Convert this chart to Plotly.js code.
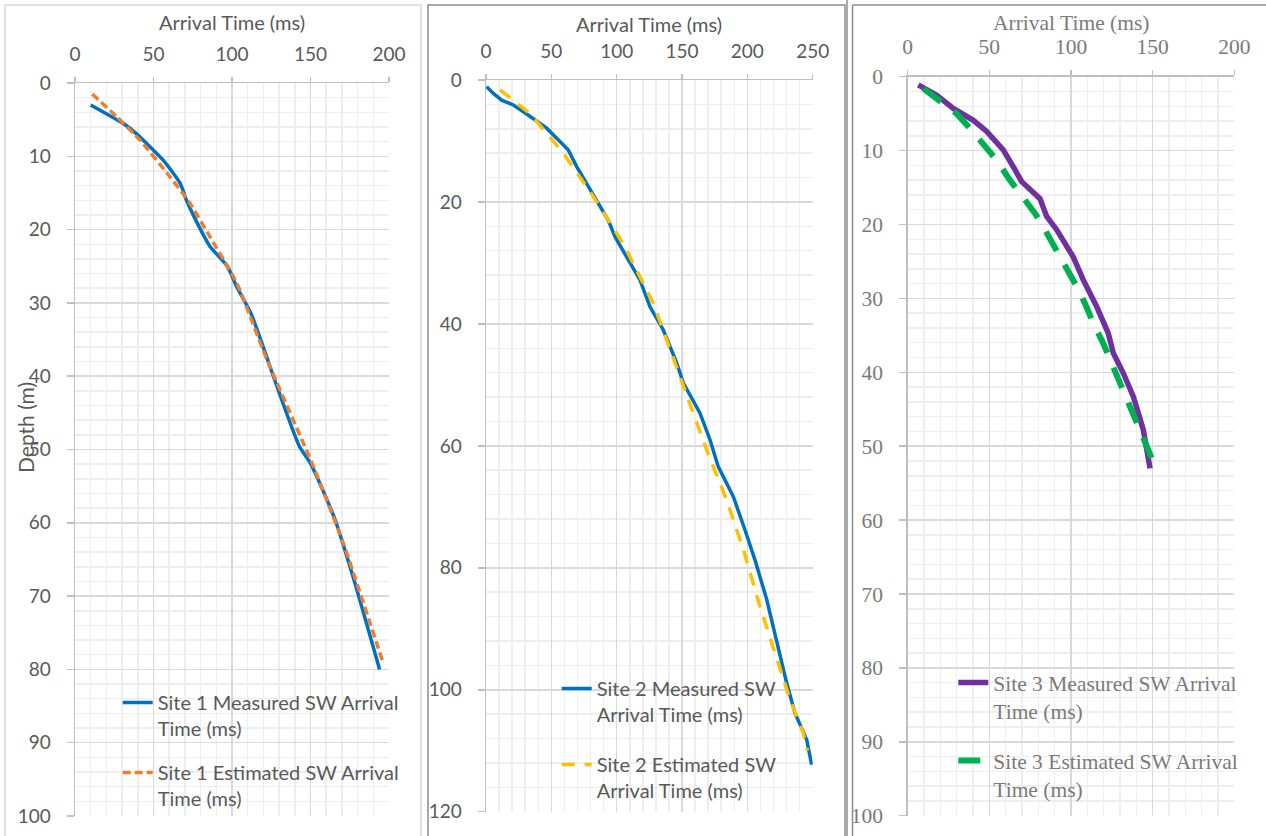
<!DOCTYPE html>
<html><head><meta charset="utf-8">
<script src="https://cdn.plot.ly/plotly-3.0.1.min.js"></script>
<style>html,body{margin:0;padding:0;background:#fff;}#chart{width:1266px;height:836px;}</style>
</head><body><div id="chart"></div>
<script>
// ---- Site 1 ----
const site1MeasuredTime  = [10, 32, 39, 56, 67, 71, 80, 86, 97, 103, 112, 122, 125, 143, 150, 165, 177, 194];
const site1MeasuredDepth = [3, 5.7, 6.9, 10.5, 13.7, 16, 20, 22.3, 25, 27.8, 31.4, 37.3, 39.2, 49.6, 51.9, 59.2, 67.3, 80];
const site1EstimatedTime  = [11, 26.5, 41.4, 60.5, 73.2, 86, 103, 122, 151.8, 170.9, 196.4];
const site1EstimatedDepth = [1.5, 4.6, 7.8, 12.8, 16.4, 21, 27.3, 37.6, 52.3, 62.8, 79.2];
// ---- Site 2 ----
const site2MeasuredTime  = [0.5, 5.6, 12, 20.9, 28.6, 37.5, 46.4, 56.6, 63, 69.4, 79.6, 88.5, 93.6, 98.7, 107.6, 117.8, 125.5, 135.7, 145.9, 151, 163.7, 171.4, 177.7, 189.2, 198.2, 205.8, 214.8, 230.1, 236.4, 245.4, 249.2];
const site2MeasuredDepth = [1.1, 2.2, 3.3, 4.1, 5.2, 6.6, 7.9, 10.1, 11.5, 14.2, 18, 21.3, 23, 25.7, 29, 32.8, 37.2, 41, 46.4, 49.7, 54.6, 59, 63.4, 68.3, 73.8, 78.7, 85.2, 98.9, 103.8, 108.2, 112.3];
const site2EstimatedTime  = [10.7, 33.7, 59.2, 82.1, 105, 128, 148.4, 156, 168.9, 184.2, 196.9, 209.6, 224.9, 232.6, 242.8, 246];
const site2EstimatedDepth = [1.6, 5.5, 12, 19.1, 26.8, 36.6, 48.6, 53, 60.7, 68.9, 77, 86.3, 96.2, 101.6, 107.1, 110];
// ---- Site 3 ----
const site3MeasuredTime  = [6.5, 17.8, 27.9, 40.2, 48.4, 58.5, 64.7, 69.8, 81, 85.1, 91.2, 95.3, 101.4, 107.5, 115.7, 122.8, 125.9, 132, 138.2, 144.3, 147.3, 148.4];
const site3MeasuredDepth = [1.1, 2.5, 4.3, 5.9, 7.4, 9.9, 12.2, 14.2, 16.5, 18.9, 20.7, 22.1, 24.4, 27.5, 31.1, 34.7, 37.4, 40.1, 43.3, 47.8, 51, 53];
const site3EstimatedTime  = [9.6, 19.8, 30, 38.2, 47.3, 54.5, 62.6, 69.8, 78, 84, 91.2, 97.4, 103.5, 108.6, 113.7, 119.8, 124.9, 129, 135.1, 140.2, 145.3, 149.4];
const site3EstimatedDepth = [1.6, 3.2, 5, 7, 9.5, 11.3, 14, 16, 18.5, 20.7, 23.5, 25.7, 28.4, 30.7, 33.4, 36.1, 38.8, 41, 44, 46.5, 49.2, 51.6];

const xTicks12 = [0, 50, 100, 150, 200];
const xTicks2  = [0, 50, 100, 150, 200, 250];

const names = [
  'Site 1 Measured SW Arrival<br>Time (ms)', 'Site 1 Estimated SW Arrival<br>Time (ms)',
  'Site 2 Measured SW<br>Arrival Time (ms)', 'Site 2 Estimated SW<br>Arrival Time (ms)',
  'Site 3 Measured SW Arrival<br>Time (ms)', 'Site 3 Estimated SW Arrival<br>Time (ms)'
];

const W = 1266, H = 836;
const px = x => x / W;
const py = y => 1 - y / H;

const sansFam = 'Lato, "Open Sans", sans-serif';
const serifFam = '"Liberation Serif", "Times New Roman", serif';
const sansTick = {family: sansFam, size: 19, color: '#595959'};
const sansText = {family: sansFam, size: 20, color: '#595959'};
const serifTick = {family: serifFam, size: 21.5, color: '#7a7a7a'};
const serifText = {family: serifFam, size: 21.5, color: '#7a7a7a'};

function xAx(dom, rng, ticks, font) {
  return {domain: dom, range: rng, side: 'top', tickmode: 'array', tickvals: ticks,
    showline: true, linecolor: '#bfbfbf', linewidth: 1.5, ticks: 'outside', ticklen: 5,
    tickcolor: '#bfbfbf', tickwidth: 1.5, showgrid: true, gridcolor: '#d9d9d9', gridwidth: 1.5,
    minor: {dtick: 10, showgrid: true, gridcolor: '#eeeeee', gridwidth: 1.5},
    zeroline: false, tickfont: font, ticklabelstandoff: 8, fixedrange: true};
}
function yAx(dom, rng, dt, mdt, font) {
  return {domain: dom, range: rng, dtick: dt, tick0: 0,
    showline: true, linecolor: '#bfbfbf', linewidth: 1.5, ticks: 'outside', ticklen: 7,
    tickcolor: '#bfbfbf', tickwidth: 1.5, showgrid: true, gridcolor: '#d9d9d9', gridwidth: 1.5,
    minor: {dtick: mdt, showgrid: true, gridcolor: '#eeeeee', gridwidth: 1.5},
    zeroline: false, tickfont: font, ticklabelstandoff: 12, fixedrange: true};
}

const traces = [
  {x: site1MeasuredTime, y: site1MeasuredDepth, xaxis: 'x', yaxis: 'y', mode: 'lines', name: names[0], legend: 'legend', legendgroup: 'g1',
   line: {color: '#0070C0', width: 3.5, shape: 'spline', smoothing: 0.6}},
  {x: site1EstimatedTime, y: site1EstimatedDepth, xaxis: 'x', yaxis: 'y', mode: 'lines', name: names[1], legend: 'legend', legendgroup: 'g2',
   line: {color: '#ED7D31', width: 3.5, dash: '8px,4px', shape: 'spline', smoothing: 0.6}},
  {x: site2MeasuredTime, y: site2MeasuredDepth, xaxis: 'x2', yaxis: 'y2', mode: 'lines', name: names[2], legend: 'legend2', legendgroup: 'g3',
   line: {color: '#0070C0', width: 3.5}},
  {x: site2EstimatedTime, y: site2EstimatedDepth, xaxis: 'x2', yaxis: 'y2', mode: 'lines', name: names[3], legend: 'legend2', legendgroup: 'g4',
   line: {color: '#FFC000', width: 3.5, dash: '13px,10px'}},
  {x: site3MeasuredTime, y: site3MeasuredDepth, xaxis: 'x3', yaxis: 'y3', mode: 'lines', name: names[4], legend: 'legend3', legendgroup: 'g5',
   line: {color: '#7030A0', width: 5.5}},
  {x: site3EstimatedTime, y: site3EstimatedDepth, xaxis: 'x3', yaxis: 'y3', mode: 'lines', name: names[5], legend: 'legend3', legendgroup: 'g6',
   line: {color: '#00B050', width: 6, dash: '22px,16px'}}
];

const legendBase = {xanchor: 'left', yanchor: 'top', bgcolor: 'rgba(0,0,0,0)', borderwidth: 0,
  valign: 'top', itemwidth: 30, itemclick: false, itemdoubleclick: false};

const layout = {
  width: W, height: H, margin: {l: 0, r: 0, t: 0, b: 0},
  paper_bgcolor: '#ffffff', plot_bgcolor: '#ffffff', showlegend: true,
  xaxis: xAx([px(75), px(389)], [0, 200], xTicks12, sansTick),
  yaxis: Object.assign(yAx([py(816), py(83)], [100, 0], 10, 2, sansTick), {anchor: 'x'}),
  xaxis2: Object.assign(xAx([px(486), px(812.7)], [0, 250], xTicks2, sansTick), {anchor: 'y2'}),
  yaxis2: Object.assign(yAx([py(811.7), py(80)], [120, 0], 20, 4, sansTick), {anchor: 'x2'}),
  xaxis3: Object.assign(xAx([px(907.7), px(1234.3)], [0, 200], xTicks12, serifTick), {anchor: 'y3'}),
  yaxis3: Object.assign(yAx([py(815.7), py(76.7)], [100, 0], 10, 2, serifTick), {anchor: 'x3'}),
  legend: Object.assign({}, legendBase, {x: px(117.7), y: py(683), font: sansText, tracegroupgap: 15}),
  legend2: Object.assign({}, legendBase, {x: px(556.7), y: py(669), font: sansText, tracegroupgap: 21}),
  legend3: Object.assign({}, legendBase, {x: px(953.3), y: py(662), font: serifText, tracegroupgap: 19}),
  annotations: [
    {text: 'Arrival Time (ms)', xref: 'paper', yref: 'paper', x: px(232), y: py(22), showarrow: false, font: sansText, xanchor: 'center', yanchor: 'middle'},
    {text: 'Arrival Time (ms)', xref: 'paper', yref: 'paper', x: px(649.3), y: py(24), showarrow: false, font: sansText, xanchor: 'center', yanchor: 'middle'},
    {text: 'Arrival Time (ms)', xref: 'paper', yref: 'paper', x: px(1071), y: py(23), showarrow: false, font: serifText, xanchor: 'center', yanchor: 'middle'},
    {text: 'Depth (m)', xref: 'paper', yref: 'paper', x: px(25), y: py(428), showarrow: false, textangle: -90,
     font: {family: sansFam, size: 21, color: '#595959'}, xanchor: 'center', yanchor: 'middle'}
  ],
  shapes: [
    {type: 'rect', xref: 'paper', yref: 'paper', x0: px(5), x1: px(421), y0: py(5), y1: py(845), line: {color: '#d9d9d9', width: 1.5}},
    {type: 'rect', xref: 'paper', yref: 'paper', x0: px(428), x1: px(845), y0: py(5), y1: py(845), line: {color: '#8c8c8c', width: 1.5}},
    {type: 'line', xref: 'paper', yref: 'paper', x0: px(847), x1: px(847), y0: py(0), y1: py(845), line: {color: '#8c8c8c', width: 1.5}},
    {type: 'line', xref: 'paper', yref: 'paper', x0: px(852.5), x1: px(852.5), y0: py(5), y1: py(845), line: {color: '#8c8c8c', width: 1.5}},
    {type: 'line', xref: 'paper', yref: 'paper', x0: px(852.5), x1: px(1270), y0: py(5), y1: py(5), line: {color: '#8c8c8c', width: 1.5}}
  ]
};

Plotly.newPlot('chart', traces, layout, {displayModeBar: false, staticPlot: true});
</script></body></html>
